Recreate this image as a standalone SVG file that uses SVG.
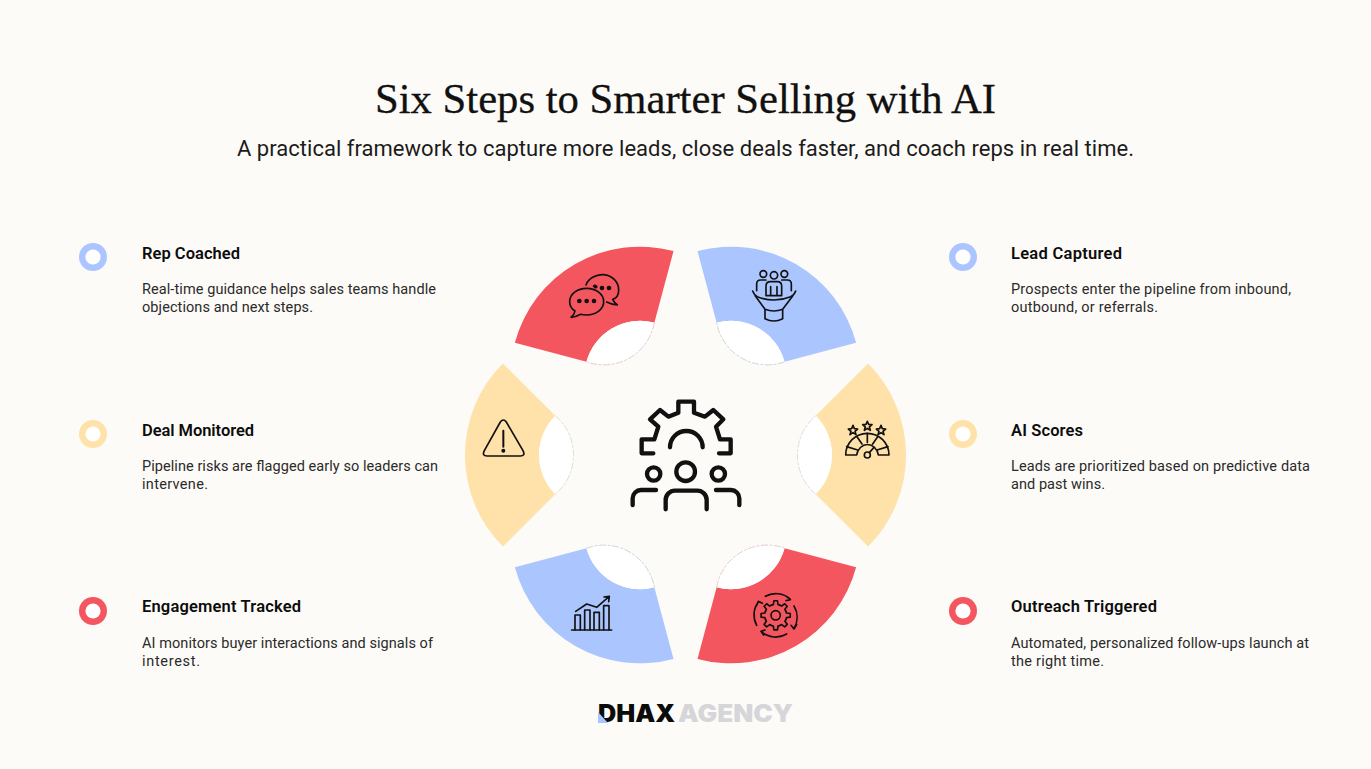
<svg xmlns="http://www.w3.org/2000/svg" xmlns:xlink="http://www.w3.org/1999/xlink" width="1371" height="769" viewBox="0 0 1371 769">
<style>
.title{font-family:"Liberation Serif","Noto Serif",serif;font-size:43px;fill:#111;stroke:#111;stroke-width:.3}
.sub{font-family:Roboto,"Noto Sans",sans-serif;font-size:22px;fill:#1c1c1c}
.h{font-family:Roboto,"Noto Sans",sans-serif;font-size:16.5px;font-weight:600;fill:#0c0c0c}
.b{font-family:Roboto,"Noto Sans",sans-serif;font-size:14.5px;fill:#2a2a2a}
.logo{font-family:Inter,"Liberation Sans",sans-serif;font-size:24px;font-weight:900}
.ic{fill:none;stroke:#111;stroke-linecap:round;stroke-linejoin:round}
.blue{fill:#abc6ff}.yel{fill:#ffe2aa}.red{fill:#f4565f}
.hole{fill:#fff}
.edge{fill:none;stroke-width:.8;stroke-dasharray:7 1.5 3 1.5}
</style>
<defs>
<path id="petal" d="M130.2,-39.2L182.6,-91.6A129.5,129.5 0 0 1 182.6,91.6L130.2,39.2A55.5,55.5 0 0 0 130.2,-39.2Z"/>
<path id="lens" d="M130.2,-39.2A55.5,55.5 0 0 1 130.2,39.2A51.25,51.25 0 0 1 130.2,-39.2Z"/>
<path id="lensEdge" d="M130.2,39.2A51.25,51.25 0 0 1 130.2,-39.2"/>
<path id="tooth" d="M-12.6,-30.5L-6.9,-32.3L-5.4,-43.7L5.4,-43.7L6.9,-32.3L12.6,-30.5"/>
<circle id="ringHole" r="7.6" fill="#fff"/>
</defs>
<rect width="1371" height="769" fill="#fdfbf7"/>

<g id="heading">
<text class="title" x="375" y="113" textLength="621" lengthAdjust="spacingAndGlyphs">Six Steps to Smarter Selling with AI</text>
<text class="sub" x="237" y="156" textLength="897">A practical framework to capture more leads, close deals faster, and coach reps in real time.</text>
</g>

<g id="connectors"></g>

<g id="hub">
<g class="ic" stroke-width="13" transform="translate(620 390) scale(.33333)">
<path d="M100,190H65V148H103L115,110L90,88L120,60L145,80L175,68V35H222V68L255,80L280,60L310,88L288,110L300,148H332V190H297"/>
<path d="M150,172A49,49 0 0 1 248,172"/>
<circle cx="197" cy="245" r="28"/><circle cx="101" cy="252" r="20"/><circle cx="295" cy="252" r="20"/>
<path d="M137,358V330A28,28 0 0 1 165,302H232A28,28 0 0 1 260,330V358"/>
<path d="M38,345V325A25,25 0 0 1 63,300H108"/>
<path d="M288,300H333A25,25 0 0 1 358,325V345"/>
</g>
</g>

<g id="step-lead-captured">
<g transform="translate(685.5 455) rotate(-60)"><use href="#petal" class="blue"/><use href="#lens" class="hole"/><use href="#lensEdge" class="edge" stroke="#c9ced8"/></g>
<g class="ic" stroke-width="5" transform="translate(680 240) scale(.33333)">
<circle cx="250" cy="102" r="10"/><circle cx="282" cy="106" r="11"/><circle cx="313" cy="102" r="10"/>
<path d="M230,152V132Q230,120 242,120H258M305,120H322Q334,120 334,132V152"/>
<path d="M258,167V138Q258,125 271,125H292Q305,125 305,138V167H258M272,140V165M291,140V165"/>
<path d="M218,153Q222,165 232,170Q282,190 332,170Q343,165 347,153"/>
<path d="M226,168L255,208V236Q282,250 308,236V208L338,168M255,208Q282,218 308,208"/>
</g>
<circle cx="963" cy="257" r="14" class="blue"/><use href="#ringHole" x="963" y="257"/>
<text class="h" x="1011" y="259" textLength="111">Lead Captured</text>
<text class="b" x="1011" y="294" textLength="280">Prospects enter the pipeline from inbound,</text>
<text class="b" x="1011" y="312" textLength="147">outbound, or referrals.</text>
</g>

<g id="step-ai-scores">
<g transform="translate(685.5 455)"><use href="#petal" class="yel"/><use href="#lens" class="hole"/><use href="#lensEdge" class="edge" stroke="#d8d4c8"/></g>
<g class="ic" stroke-width="5" transform="translate(680 240) scale(.33333)">
<path d="M497,645A65,65 0 0 1 627,645H595A33,38 0 0 0 530,645H497Z"/>
<path d="M500,620L533,630M531,590L546,612M562,580V607M593,590L578,612M624,620L591,630"/>
<path d="M519,556L523,566L533,567L525,574L528,584L519,578L510,584L513,574L505,567L515,566Z"/>
<path d="M562,544L566,553L576,554L568,561L571,571L562,565L553,571L556,561L548,554L558,553Z"/>
<path d="M603,556L607,566L617,567L609,574L612,584L603,578L594,584L597,574L589,567L599,566Z"/>
<circle cx="562" cy="645" r="9" fill="#ffe2aa"/><path d="M568,638L582,622"/>
</g>
<circle cx="963" cy="434" r="14" class="yel"/><use href="#ringHole" x="963" y="434"/>
<text class="h" x="1011" y="436" textLength="72">AI Scores</text>
<text class="b" x="1011" y="471" textLength="299">Leads are prioritized based on predictive data</text>
<text class="b" x="1011" y="489" textLength="94">and past wins.</text>
</g>

<g id="step-outreach-triggered">
<g transform="translate(685.5 455) rotate(60)"><use href="#petal" class="red"/><use href="#lens" class="hole"/><use href="#lensEdge" class="edge" stroke="#e3c4c8"/></g>
<g class="ic" stroke-width="5" transform="translate(680 450) scale(.33333)">
<g transform="translate(287 496)">
<use href="#tooth"/><use href="#tooth" transform="rotate(45)"/><use href="#tooth" transform="rotate(90)"/><use href="#tooth" transform="rotate(135)"/><use href="#tooth" transform="rotate(180)"/><use href="#tooth" transform="rotate(225)"/><use href="#tooth" transform="rotate(270)"/><use href="#tooth" transform="rotate(315)"/>
<circle r="14"/>
<path d="M-31,-57A65,65 0 0 1 43,-49M33,-56L44,-47L31,-44"/>
<path d="M55,-28A65,65 0 0 1 55,39M63,28L55,41L46,30"/>
<path d="M33,56A65,65 0 0 1 -42,50M-32,44L-44,48L-36,59"/>
<path d="M-57,30A65,65 0 0 1 -52,-40M-58,-28L-52,-42L-40,-36"/>
</g>
</g>
<circle cx="963" cy="611" r="14" class="red"/><use href="#ringHole" x="963" y="611"/>
<text class="h" x="1011" y="612" textLength="146">Outreach Triggered</text>
<text class="b" x="1011" y="648" textLength="298">Automated, personalized follow-ups launch at</text>
<text class="b" x="1011" y="666" textLength="93">the right time.</text>
</g>

<g id="step-engagement-tracked">
<g transform="translate(685.5 455) rotate(120)"><use href="#petal" class="blue"/><use href="#lens" class="hole"/><use href="#lensEdge" class="edge" stroke="#c9ced8"/></g>
<g class="ic" stroke-width="5" stroke-linejoin="miter" transform="translate(460 450) scale(.33333)">
<path d="M335,540H455"/>
<path d="M345,540V495H361V540M374,540V480H390V540M402,540V487H418V540M431,540V467H447V540"/>
<path d="M347,484L380,462L410,472L447,440M432,441L448,439L446,455"/>
</g>
<circle cx="93" cy="611" r="14" class="red"/><use href="#ringHole" x="93" y="611"/>
<text class="h" x="142" y="612" textLength="159">Engagement Tracked</text>
<text class="b" x="142" y="648" textLength="291">AI monitors buyer interactions and signals of</text>
<text class="b" x="142" y="666" textLength="58">interest.</text>
</g>

<g id="step-deal-monitored">
<g transform="translate(685.5 455) rotate(180)"><use href="#petal" class="yel"/><use href="#lens" class="hole"/><use href="#lensEdge" class="edge" stroke="#d8d4c8"/></g>
<g class="ic" stroke-width="5" transform="translate(460 240) scale(.33333)">
<path d="M121,546Q130,534 139,546L189,632Q197,648 181,648H81Q65,648 73,632Z"/>
<path d="M130,572V620" stroke-width="6"/>
<circle cx="130" cy="632" r="3.5" fill="#111"/>
</g>
<circle cx="93" cy="434" r="14" class="yel"/><use href="#ringHole" x="93" y="434"/>
<text class="h" x="142" y="436" textLength="112">Deal Monitored</text>
<text class="b" x="142" y="471" textLength="296">Pipeline risks are flagged early so leaders can</text>
<text class="b" x="142" y="489" textLength="66">intervene.</text>
</g>

<g id="step-rep-coached">
<g transform="translate(685.5 455) rotate(240)"><use href="#petal" class="red"/><use href="#lens" class="hole"/><use href="#lensEdge" class="edge" stroke="#e3c4c8"/></g>
<g class="ic" stroke-width="5" transform="translate(460 240) scale(.33333)">
<path d="M378,135C385,115 408,104 427,104C455,104 476,125 476,150C476,165 468,175 458,178C461,185 466,190 472,195C460,195 448,190 440,186"/>
<path d="M380,145C352,145 329,162 329,185C329,197 336,207 345,213C344,220 339,227 333,232C344,232 355,227 362,223C368,225 374,225 380,225C408,225 431,207 431,185C431,162 408,145 380,145Z" fill="#f4565f"/>
<g fill="#111" stroke="none">
<circle cx="358" cy="183" r="7"/><circle cx="380" cy="183" r="7"/><circle cx="402" cy="183" r="7"/>
<path d="M398,139A7,7 0 0 1 412,144L405,146Z"/><circle cx="426" cy="144" r="7"/><circle cx="447" cy="144" r="7"/>
</g>
</g>
<circle cx="93" cy="257" r="14" class="blue"/><use href="#ringHole" x="93" y="257"/>
<text class="h" x="142" y="259" textLength="98">Rep Coached</text>
<text class="b" x="142" y="294" textLength="294">Real-time guidance helps sales teams handle</text>
<text class="b" x="142" y="312" textLength="171">objections and next steps.</text>
</g>

<g id="logo">
<text class="logo" x="598" y="722" fill="#0b0b0b" textLength="77" lengthAdjust="spacingAndGlyphs">DHAX</text>
<text class="logo" x="678" y="722" fill="#d6d6da" textLength="115" lengthAdjust="spacingAndGlyphs">AGENCY</text>
<polygon points="598,712 608,723 598,723" class="blue"/>
</g>
</svg>
